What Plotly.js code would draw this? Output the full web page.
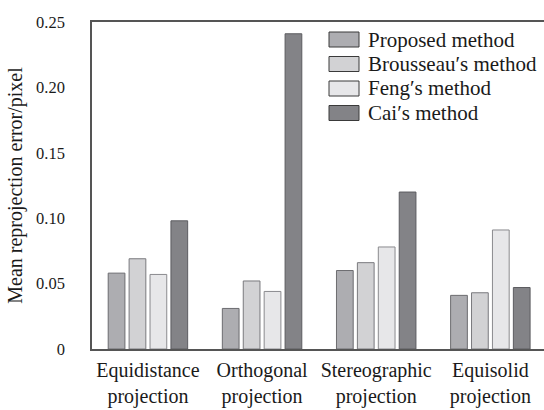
<!DOCTYPE html>
<html>
<head>
<meta charset="utf-8">
<script src="https://cdn.plot.ly/plotly-3.0.1.min.js"></script>
<style>html,body{margin:0;padding:0;background:#fff;}#chart{width:544px;height:410px;}</style>
</head>
<body>
<div id="chart"></div>
<script>
// ---- data ----
const categories = ["Equidistance<br>projection", "Orthogonal<br>projection", "Stereographic<br>projection", "Equisolid<br>projection"];
const seriesNames = ["Proposed method", "Brousseau\u2032s method", "Feng\u2032s method", "Cai\u2032s method"];
const proposed  = [0.058, 0.031, 0.060, 0.041];
const brousseau = [0.069, 0.052, 0.066, 0.043];
const feng      = [0.057, 0.044, 0.078, 0.091];
const cai       = [0.098, 0.241, 0.120, 0.047];
const yTickVals = [0, 0.05, 0.10, 0.15, 0.20, 0.25];
const yTickText = ["0", "0.05", "0.10", "0.15", "0.20", "0.25"];

// ---- styles ----
const fills = ["#adadb1", "#d2d2d4", "#e7e7e9", "#838387"];
const lines = ["#6c6c70", "#7a7a7e", "#8a8a8e", "#5c5c60"];
const seriesValues = [proposed, brousseau, feng, cai];
const xIdx = categories.map((_, i) => i);
const FONT = "Liberation Serif";

const traces = seriesValues.map((vals, k) => ({
  type: "bar",
  name: seriesNames[k],
  x: xIdx,
  y: vals,
  marker: {color: fills[k], line: {color: lines[k], width: 1}},
  showlegend: false,
  hoverinfo: "skip"
}));

// custom legend (paper coords)
const L = 92, R = 544, T = 22, B = 349;
const px = v => (v - L) / (R - L);
const py = v => (B - v) / (B - T);
const shapes = [];
const annotations = [];
const rowTop = [32, 56.5, 81, 105.5];
seriesNames.forEach((nm, k) => {
  shapes.push({type: "rect", xref: "paper", yref: "paper",
    x0: px(329), x1: px(359), y0: py(rowTop[k] + 15), y1: py(rowTop[k]),
    fillcolor: fills[k], line: {color: "#3a3a3a", width: 1}});
  annotations.push({xref: "paper", yref: "paper", x: px(366), y: py(rowTop[k] + 7.5),
    xanchor: "left", yanchor: "middle", text: nm, showarrow: false,
    font: {family: FONT, size: 21, color: "#1a1a1a"}});
});

const layout = {
  width: 544, height: 410,
  margin: {l: L, r: 0, t: T, b: 410 - B},
  paper_bgcolor: "#fff", plot_bgcolor: "#fff",
  barmode: "group", bargap: 0.267, bargroupgap: 0.2,
  font: {family: FONT, color: "#1a1a1a"},
  xaxis: {
    range: [-0.49, 3.47], tickvals: xIdx, ticktext: categories,
    showgrid: false, zeroline: false, showline: true, linecolor: "#555", linewidth: 1.5,
    mirror: true, ticks: "", ticklabelstandoff: 2,
    tickfont: {family: FONT, size: 20, color: "#1a1a1a"}
  },
  yaxis: {
    range: [0, 0.25], tickvals: yTickVals, ticktext: yTickText,
    showgrid: false, zeroline: false, showline: true, linecolor: "#555", linewidth: 1.5,
    ticks: "", ticklabelstandoff: 22, tickfont: {family: FONT, size: 16.5, color: "#1a1a1a"},
    title: {text: "Mean reprojection error/pixel", font: {family: FONT, size: 20, color: "#1a1a1a"}, standoff: 8},
    automargin: false
  },
  shapes: shapes,
  annotations: annotations
};

Plotly.newPlot("chart", traces, layout, {displayModeBar: false});
</script>
</body>
</html>
